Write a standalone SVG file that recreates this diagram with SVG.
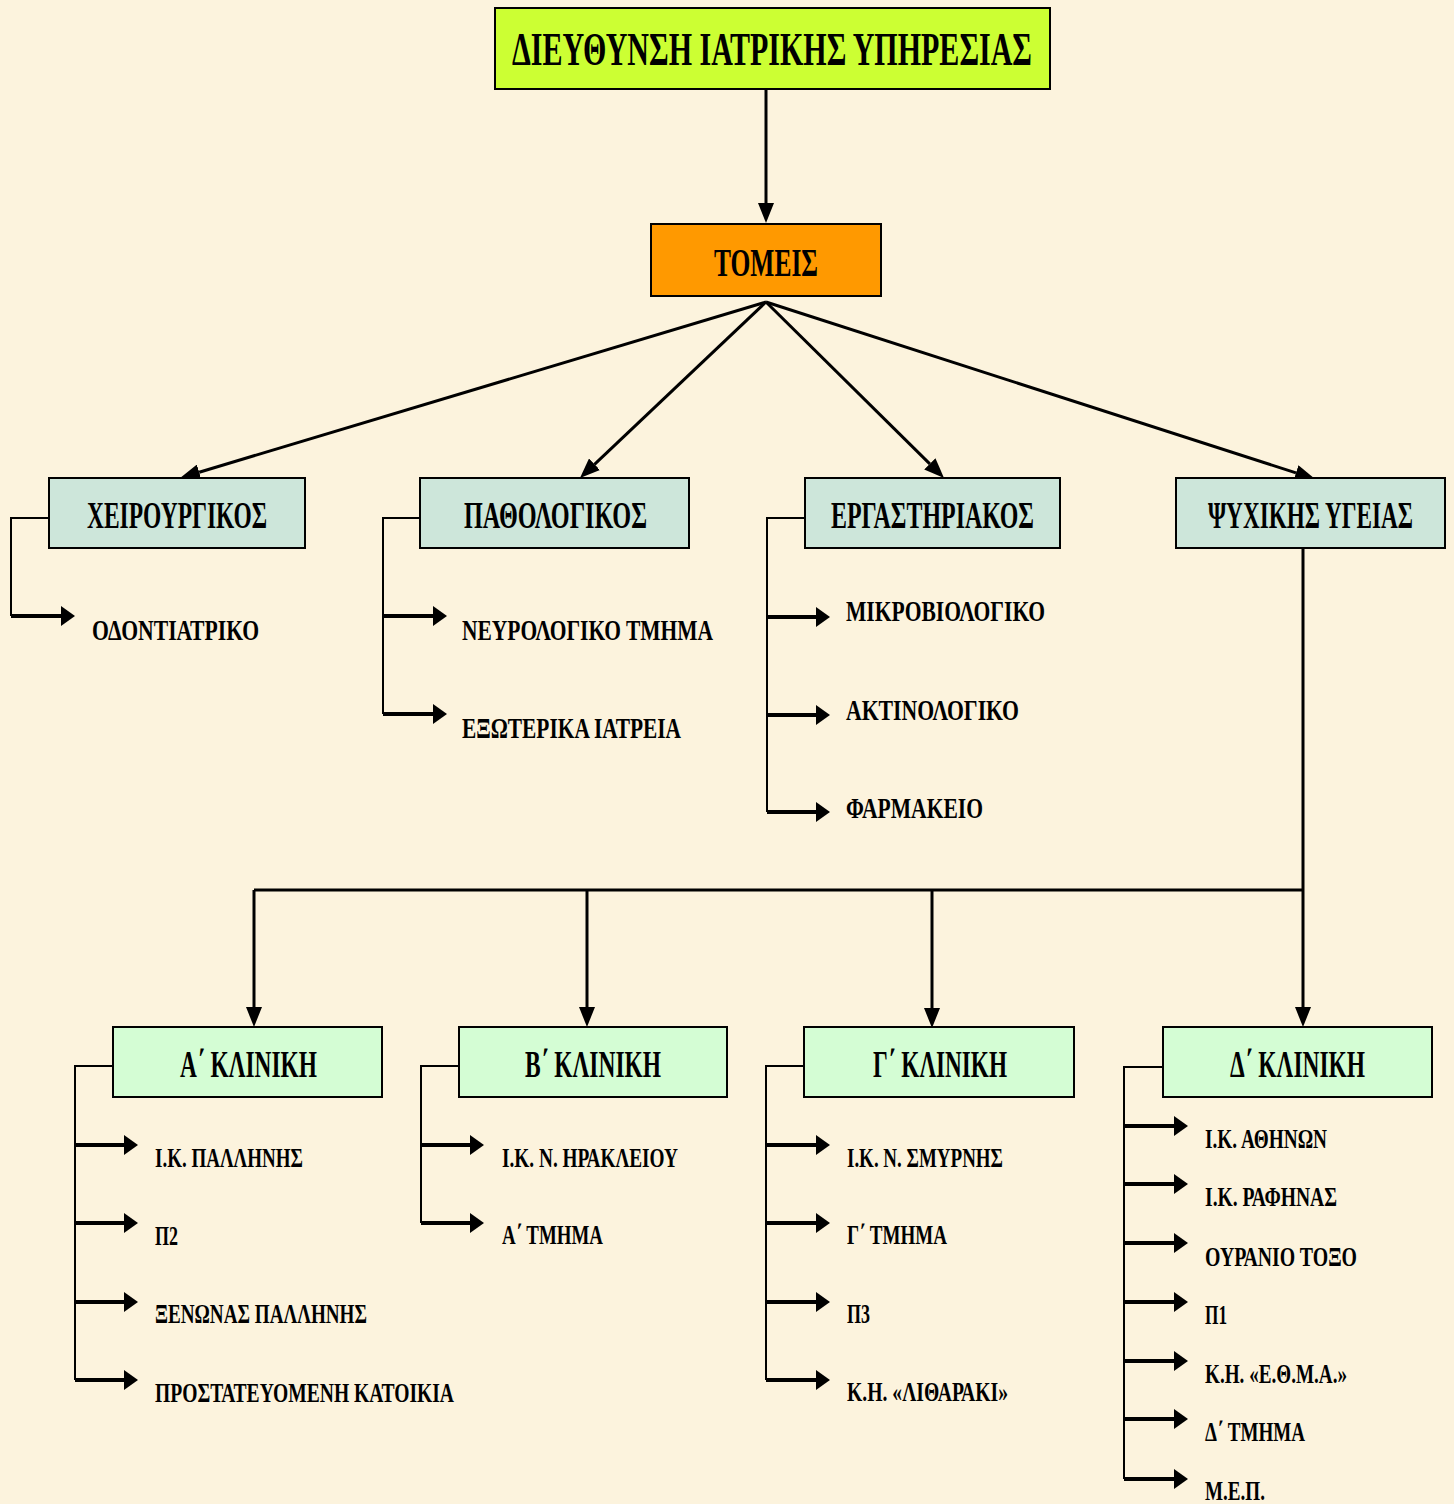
<svg xmlns="http://www.w3.org/2000/svg" width="1454" height="1504" viewBox="0 0 1454 1504">
<style>
text{font-family:"Liberation Serif","Times New Roman",serif;font-weight:bold;fill:#000;}
.t0{font-size:46px;}
.t1{font-size:39px;}
.t2{font-size:37px;}
.s2{font-size:30px;}
.s3{font-size:28px;}
.box{stroke:#000;stroke-width:2;}
.main{fill:none;stroke:#000;stroke-width:3;}
.brk{fill:none;stroke:#000;stroke-width:2;}
.sub{fill:none;stroke:#000;stroke-width:4;}
</style>
<defs>
<marker id="big" markerUnits="userSpaceOnUse" markerWidth="20" markerHeight="16" viewBox="0 0 20 16" refX="0" refY="8" orient="auto">
<path d="M0,0 L20,8 L0,16 z" fill="#000"/>
</marker>
<marker id="sm" markerUnits="userSpaceOnUse" markerWidth="14" markerHeight="20" viewBox="0 0 14 20" refX="0" refY="10" orient="auto">
<path d="M0,0 L14,10 L0,20 z" fill="#000"/>
</marker>
</defs>
<rect x="0" y="0" width="1454" height="1504" fill="#FCF3DD"/>

<g id="connectors">
<path class="main" d="M766,89 V203" marker-end="url(#big)"/>
<path class="main" d="M766,302 L199.2,472.2" marker-end="url(#big)"/>
<path class="main" d="M766,302 L594.5,464.3" marker-end="url(#big)"/>
<path class="main" d="M766,302 L929.8,463.9" marker-end="url(#big)"/>
<path class="main" d="M766,302 L1296,472.9" marker-end="url(#big)"/>
<path class="main" d="M1303,548 V1007" marker-end="url(#big)"/>
<path class="main" d="M254,890 H1303"/>
<path class="main" d="M254,890 V1007" marker-end="url(#big)"/>
<path class="main" d="M587,890 V1007" marker-end="url(#big)"/>
<path class="main" d="M932,890 V1008" marker-end="url(#big)"/>

<path class="brk" d="M49,518 H11 V616"/>
<path class="sub" d="M11,616 H61" marker-end="url(#sm)"/>

<path class="brk" d="M420,518 H383 V714"/>
<path class="sub" d="M383,616 H433" marker-end="url(#sm)"/>
<path class="sub" d="M383,714 H433" marker-end="url(#sm)"/>

<path class="brk" d="M805,518 H767 V812"/>
<path class="sub" d="M767,617 H816" marker-end="url(#sm)"/>
<path class="sub" d="M767,715 H816" marker-end="url(#sm)"/>
<path class="sub" d="M767,812 H816" marker-end="url(#sm)"/>

<path class="brk" d="M113,1066 H75 V1380"/>
<path class="sub" d="M75,1145 H124" marker-end="url(#sm)"/>
<path class="sub" d="M75,1223 H124" marker-end="url(#sm)"/>
<path class="sub" d="M75,1302 H124" marker-end="url(#sm)"/>
<path class="sub" d="M75,1380 H124" marker-end="url(#sm)"/>

<path class="brk" d="M459,1066 H421 V1223"/>
<path class="sub" d="M421,1145 H470" marker-end="url(#sm)"/>
<path class="sub" d="M421,1223 H470" marker-end="url(#sm)"/>

<path class="brk" d="M804,1066 H766 V1380"/>
<path class="sub" d="M766,1145 H816" marker-end="url(#sm)"/>
<path class="sub" d="M766,1223 H816" marker-end="url(#sm)"/>
<path class="sub" d="M766,1302 H816" marker-end="url(#sm)"/>
<path class="sub" d="M766,1380 H816" marker-end="url(#sm)"/>

<path class="brk" d="M1163,1067 H1124 V1479"/>
<path class="sub" d="M1124,1126 H1174" marker-end="url(#sm)"/>
<path class="sub" d="M1124,1184 H1174" marker-end="url(#sm)"/>
<path class="sub" d="M1124,1243 H1174" marker-end="url(#sm)"/>
<path class="sub" d="M1124,1302 H1174" marker-end="url(#sm)"/>
<path class="sub" d="M1124,1361 H1174" marker-end="url(#sm)"/>
<path class="sub" d="M1124,1419 H1174" marker-end="url(#sm)"/>
<path class="sub" d="M1124,1479 H1174" marker-end="url(#sm)"/>
</g>

<g id="n-director">
<rect class="box" x="495" y="8" width="555" height="81" fill="#CCFF33"/>
<text class="t0" x="512" y="65" textLength="520" lengthAdjust="spacingAndGlyphs">ΔΙΕΥΘΥΝΣΗ ΙΑΤΡΙΚΗΣ ΥΠΗΡΕΣΙΑΣ</text>
</g>
<g id="n-tomeis">
<rect class="box" x="651" y="224" width="230" height="72" fill="#FF9900"/>
<text class="t1" x="714" y="276" textLength="104" lengthAdjust="spacingAndGlyphs">ΤΟΜΕΙΣ</text>
</g>

<g id="n-xeir">
<rect class="box" x="49" y="478" width="256" height="70" fill="#CDE6DA"/>
<text class="t2" x="87" y="528" textLength="180" lengthAdjust="spacingAndGlyphs">ΧΕΙΡΟΥΡΓΙΚΟΣ</text>
</g>
<g id="n-path">
<rect class="box" x="420" y="478" width="269" height="70" fill="#CDE6DA"/>
<text class="t2" x="464" y="528" textLength="183" lengthAdjust="spacingAndGlyphs">ΠΑΘΟΛΟΓΙΚΟΣ</text>
</g>
<g id="n-erg">
<rect class="box" x="805" y="478" width="255" height="70" fill="#CDE6DA"/>
<text class="t2" x="831" y="528" textLength="203" lengthAdjust="spacingAndGlyphs">ΕΡΓΑΣΤΗΡΙΑΚΟΣ</text>
</g>
<g id="n-psy">
<rect class="box" x="1176" y="478" width="269" height="70" fill="#CDE6DA"/>
<text class="t2" x="1208" y="528" textLength="205" lengthAdjust="spacingAndGlyphs">ΨΥΧΙΚΗΣ ΥΓΕΙΑΣ</text>
</g>

<g id="n-odont"><text class="s2" x="92" y="640" textLength="167" lengthAdjust="spacingAndGlyphs">ΟΔΟΝΤΙΑΤΡΙΚΟ</text></g>
<g id="n-neur"><text class="s2" x="462" y="640" textLength="251" lengthAdjust="spacingAndGlyphs">ΝΕΥΡΟΛΟΓΙΚΟ ΤΜΗΜΑ</text></g>
<g id="n-exot"><text class="s2" x="462" y="738" textLength="219" lengthAdjust="spacingAndGlyphs">ΕΞΩΤΕΡΙΚΑ ΙΑΤΡΕΙΑ</text></g>
<g id="n-mikr"><text class="s2" x="846" y="621" textLength="199" lengthAdjust="spacingAndGlyphs">ΜΙΚΡΟΒΙΟΛΟΓΙΚΟ</text></g>
<g id="n-akt"><text class="s2" x="846" y="720" textLength="173" lengthAdjust="spacingAndGlyphs">ΑΚΤΙΝΟΛΟΓΙΚΟ</text></g>
<g id="n-farm"><text class="s2" x="846" y="818" textLength="137" lengthAdjust="spacingAndGlyphs">ΦΑΡΜΑΚΕΙΟ</text></g>

<g id="n-a">
<rect class="box" x="113" y="1027" width="269" height="70" fill="#D4FDD4"/>
<text class="t2" x="180" y="1077" textLength="137" lengthAdjust="spacingAndGlyphs">Α΄ ΚΛΙΝΙΚΗ</text>
</g>
<g id="n-b">
<rect class="box" x="459" y="1027" width="268" height="70" fill="#D4FDD4"/>
<text class="t2" x="525" y="1077" textLength="136" lengthAdjust="spacingAndGlyphs">Β΄ ΚΛΙΝΙΚΗ</text>
</g>
<g id="n-c">
<rect class="box" x="804" y="1027" width="270" height="70" fill="#D4FDD4"/>
<text class="t2" x="873" y="1077" textLength="134" lengthAdjust="spacingAndGlyphs">Γ΄ ΚΛΙΝΙΚΗ</text>
</g>
<g id="n-d">
<rect class="box" x="1163" y="1027" width="269" height="70" fill="#D4FDD4"/>
<text class="t2" x="1230" y="1077" textLength="135" lengthAdjust="spacingAndGlyphs">Δ΄ ΚΛΙΝΙΚΗ</text>
</g>

<g id="n-a1"><text class="s3" x="155" y="1167" textLength="148" lengthAdjust="spacingAndGlyphs">Ι.Κ. ΠΑΛΛΗΝΗΣ</text></g>
<g id="n-a2"><text class="s3" x="155" y="1245" textLength="23" lengthAdjust="spacingAndGlyphs">Π2</text></g>
<g id="n-a3"><text class="s3" x="155" y="1323" textLength="212" lengthAdjust="spacingAndGlyphs">ΞΕΝΩΝΑΣ ΠΑΛΛΗΝΗΣ</text></g>
<g id="n-a4"><text class="s3" x="155" y="1402" textLength="299" lengthAdjust="spacingAndGlyphs">ΠΡΟΣΤΑΤΕΥΟΜΕΝΗ ΚΑΤΟΙΚΙΑ</text></g>

<g id="n-b1"><text class="s3" x="502" y="1167" textLength="176" lengthAdjust="spacingAndGlyphs">Ι.Κ. Ν. ΗΡΑΚΛΕΙΟΥ</text></g>
<g id="n-b2"><text class="s3" x="502" y="1244" textLength="101" lengthAdjust="spacingAndGlyphs">Α΄ ΤΜΗΜΑ</text></g>

<g id="n-c1"><text class="s3" x="847" y="1167" textLength="156" lengthAdjust="spacingAndGlyphs">Ι.Κ. Ν. ΣΜΥΡΝΗΣ</text></g>
<g id="n-c2"><text class="s3" x="847" y="1244" textLength="100" lengthAdjust="spacingAndGlyphs">Γ΄ ΤΜΗΜΑ</text></g>
<g id="n-c3"><text class="s3" x="847" y="1323" textLength="23" lengthAdjust="spacingAndGlyphs">Π3</text></g>
<g id="n-c4"><text class="s3" x="847" y="1401" textLength="161" lengthAdjust="spacingAndGlyphs">Κ.Η. «ΛΙΘΑΡΑΚΙ»</text></g>

<g id="n-d1"><text class="s3" x="1205" y="1148" textLength="122" lengthAdjust="spacingAndGlyphs">Ι.Κ. ΑΘΗΝΩΝ</text></g>
<g id="n-d2"><text class="s3" x="1205" y="1206" textLength="132" lengthAdjust="spacingAndGlyphs">Ι.Κ. ΡΑΦΗΝΑΣ</text></g>
<g id="n-d3"><text class="s3" x="1205" y="1266" textLength="152" lengthAdjust="spacingAndGlyphs">ΟΥΡΑΝΙΟ ΤΟΞΟ</text></g>
<g id="n-d4"><text class="s3" x="1205" y="1324" textLength="22" lengthAdjust="spacingAndGlyphs">Π1</text></g>
<g id="n-d5"><text class="s3" x="1205" y="1383" textLength="142" lengthAdjust="spacingAndGlyphs">Κ.Η. «Ε.Θ.Μ.Α.»</text></g>
<g id="n-d6"><text class="s3" x="1205" y="1441" textLength="100" lengthAdjust="spacingAndGlyphs">Δ΄ ΤΜΗΜΑ</text></g>
<g id="n-d7"><text class="s3" x="1205" y="1500" textLength="60" lengthAdjust="spacingAndGlyphs">Μ.Ε.Π.</text></g>
</svg>
